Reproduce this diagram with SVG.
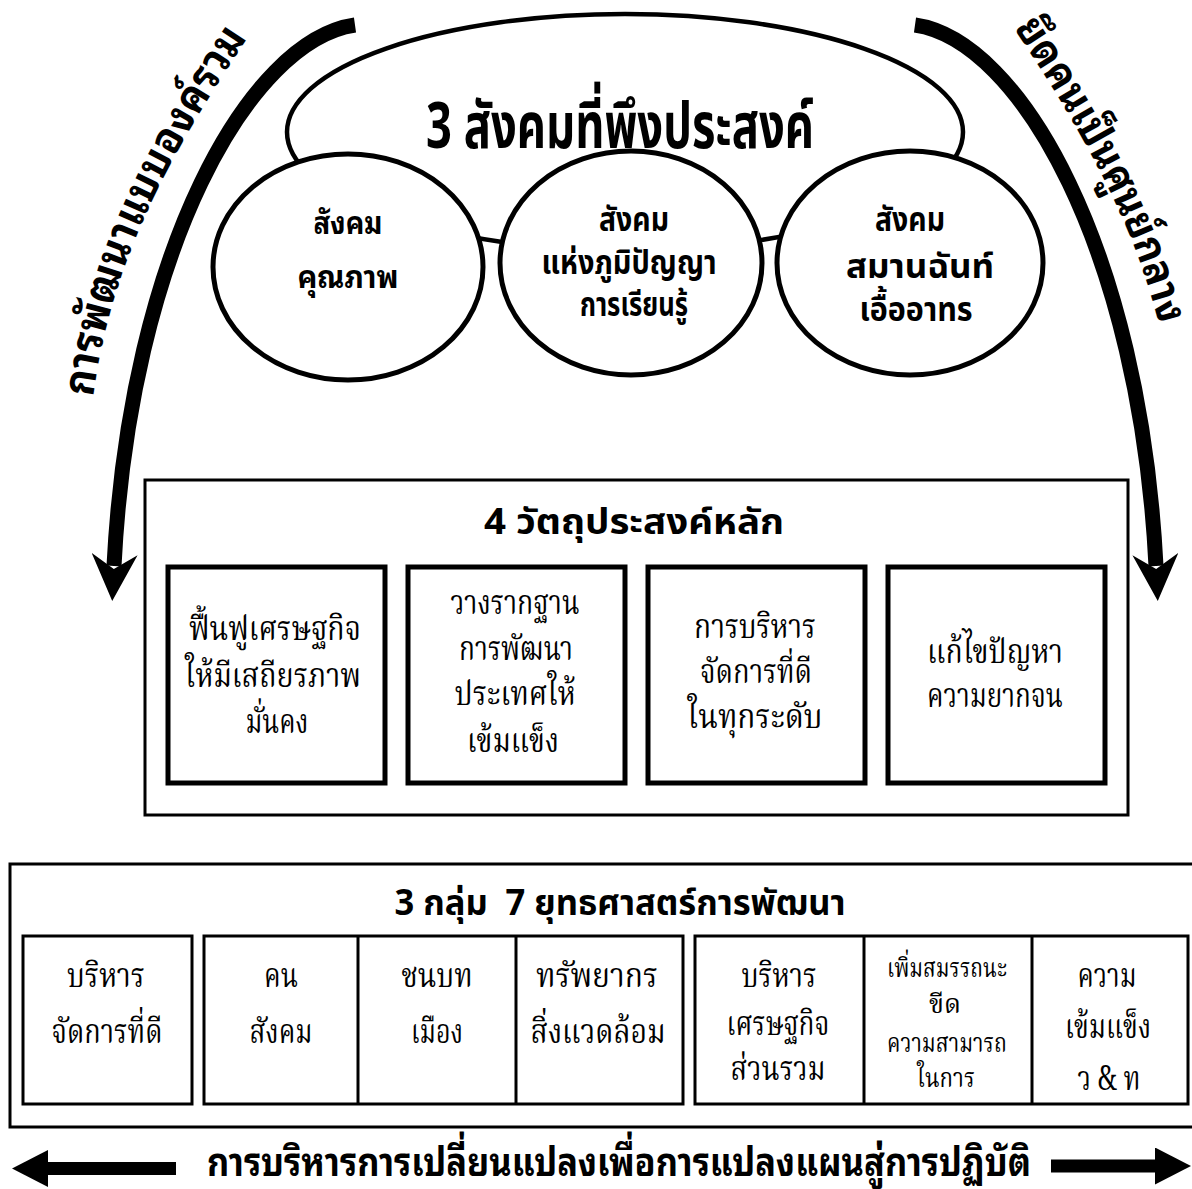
<svg xmlns="http://www.w3.org/2000/svg" width="1192" height="1189" viewBox="0 0 1192 1189">
<defs>
<style>
.bg{fill:#fff}
.ln{fill:#fff;stroke:#000}
.box{fill:#fff;stroke:#000;stroke-width:5}
.cell{fill:none;stroke:#000;stroke-width:3}
.arc{fill:none;stroke:#000;stroke-width:15}
.bar{fill:none;stroke:#000;stroke-width:13}
.hd{font-family:"Noto Sans Thai","Noto Sans","Liberation Sans",sans-serif;font-weight:700;fill:#000;text-anchor:middle}
.lp{font-family:"Noto Sans Thai Looped","Noto Sans Thai","Tahoma","Liberation Sans",sans-serif;font-weight:700;fill:#000}
.sf{font-family:"Noto Serif Thai","Noto Serif","Liberation Serif",serif;fill:#000;text-anchor:middle}
</style>
<marker id="arcHead" markerUnits="userSpaceOnUse" markerWidth="48" markerHeight="46" viewBox="0 0 48 46" refX="12" refY="23" orient="auto">
<path d="M0,0 L47,23 L0,46 L15,23 Z" fill="#000"/>
</marker>
<marker id="barHead" markerUnits="userSpaceOnUse" markerWidth="36" markerHeight="37" viewBox="0 0 36 37" refX="2" refY="18.5" orient="auto">
<path d="M0,0 L36,18.5 L0,37 Z" fill="#000"/>
</marker>
<path id="leftBase" d="M 92 405 C 110 260, 170 150, 270 5"/>
<path id="rightBase" d="M 998 5 C 1097 150, 1156 260, 1174 405"/>
</defs>
<rect class="bg" x="0" y="0" width="1192" height="1189"/>

<g id="connectors">
<path class="arc" d="M 355 25 C 250 40, 130 250, 114 566" marker-end="url(#arcHead)"/>
<path class="arc" d="M 915 25 C 1020 40, 1140 250, 1156 566" marker-end="url(#arcHead)"/>
<line class="bar" x1="176" y1="1168.5" x2="46" y2="1168.5" marker-end="url(#barHead)"/>
<line class="bar" x1="1051" y1="1166" x2="1157" y2="1166" marker-end="url(#barHead)"/>
</g>

<g id="label-left-arc">
<text class="lp" font-size="44"><textPath href="#leftBase" startOffset="8" textLength="395" lengthAdjust="spacingAndGlyphs">การพัฒนาแบบองค์รวม</textPath></text>
</g>
<g id="label-right-arc">
<text class="lp" font-size="43"><textPath href="#rightBase" startOffset="28" textLength="332" lengthAdjust="spacingAndGlyphs">ยึดคนเป็นศูนย์กลาง</textPath></text>
</g>

<g id="node-three-societies">
<ellipse class="ln" cx="625" cy="132" rx="338" ry="118" stroke-width="4.5"/>
<text class="hd" x="620" y="148" font-size="64" textLength="388" lengthAdjust="spacingAndGlyphs">3 สังคมที่พึงประสงค์</text>
</g>

<g id="node-quality-society">
<ellipse class="ln" cx="348" cy="267" rx="135" ry="113" stroke-width="5"/>
<text class="lp" text-anchor="middle" x="348" y="234" font-size="32" textLength="69" lengthAdjust="spacingAndGlyphs">สังคม</text>
<text class="lp" text-anchor="middle" x="348" y="288" font-size="32" textLength="101" lengthAdjust="spacingAndGlyphs">คุณภาพ</text>
</g>

<g id="node-wisdom-society">
<ellipse class="ln" cx="631" cy="263" rx="131" ry="112" stroke-width="5"/>
<text class="hd" x="634" y="231" font-size="34" textLength="70" lengthAdjust="spacingAndGlyphs">สังคม</text>
<text class="hd" x="629" y="274" font-size="34" textLength="175" lengthAdjust="spacingAndGlyphs">แห่งภูมิปัญญา</text>
<text class="hd" x="634" y="316" font-size="34" textLength="108" lengthAdjust="spacingAndGlyphs">การเรียนรู้</text>
</g>

<g id="node-harmony-society">
<ellipse class="ln" cx="910" cy="263" rx="133" ry="112" stroke-width="5"/>
<text class="hd" x="910" y="231" font-size="34" textLength="70" lengthAdjust="spacingAndGlyphs">สังคม</text>
<text class="hd" x="920" y="278" font-size="34" textLength="148" lengthAdjust="spacingAndGlyphs">สมานฉันท์</text>
<text class="hd" x="916" y="321" font-size="34" textLength="113" lengthAdjust="spacingAndGlyphs">เอื้ออาทร</text>
</g>

<g id="node-four-objectives">
<rect x="145" y="480" width="983" height="335" fill="none" stroke="#000" stroke-width="3"/>
<text class="hd" x="634" y="534" font-size="36" textLength="300" lengthAdjust="spacingAndGlyphs">4 วัตถุประสงค์หลัก</text>
</g>

<g id="node-objective-1">
<rect class="box" x="168" y="567" width="217" height="216"/>
<text class="sf" x="275" y="640" font-size="33" textLength="172" lengthAdjust="spacingAndGlyphs">ฟื้นฟูเศรษฐกิจ</text>
<text class="sf" x="273" y="687" font-size="33" textLength="176" lengthAdjust="spacingAndGlyphs">ให้มีเสถียรภาพ</text>
<text class="sf" x="277" y="733" font-size="33" textLength="63" lengthAdjust="spacingAndGlyphs">มั่นคง</text>
</g>

<g id="node-objective-2">
<rect class="box" x="408" y="567" width="217" height="216"/>
<text class="sf" x="515" y="614" font-size="33" textLength="129" lengthAdjust="spacingAndGlyphs">วางรากฐาน</text>
<text class="sf" x="516" y="660" font-size="33" textLength="114" lengthAdjust="spacingAndGlyphs">การพัฒนา</text>
<text class="sf" x="515" y="705" font-size="33" textLength="121" lengthAdjust="spacingAndGlyphs">ประเทศให้</text>
<text class="sf" x="513" y="752" font-size="33" textLength="92" lengthAdjust="spacingAndGlyphs">เข้มแข็ง</text>
</g>

<g id="node-objective-3">
<rect class="box" x="648" y="567" width="217" height="216"/>
<text class="sf" x="755" y="638" font-size="33" textLength="122" lengthAdjust="spacingAndGlyphs">การบริหาร</text>
<text class="sf" x="756" y="683" font-size="33" textLength="112" lengthAdjust="spacingAndGlyphs">จัดการที่ดี</text>
<text class="sf" x="755" y="728" font-size="33" textLength="135" lengthAdjust="spacingAndGlyphs">ในทุกระดับ</text>
</g>

<g id="node-objective-4">
<rect class="box" x="888" y="567" width="217" height="216"/>
<text class="sf" x="995" y="663" font-size="33" textLength="136" lengthAdjust="spacingAndGlyphs">แก้ไขปัญหา</text>
<text class="sf" x="995" y="707" font-size="33" textLength="136" lengthAdjust="spacingAndGlyphs">ความยากจน</text>
</g>

<g id="node-strategies">
<rect x="10" y="864" width="1195" height="263" fill="none" stroke="#000" stroke-width="3"/>
<text class="hd" x="620" y="915" font-size="36" textLength="451" lengthAdjust="spacingAndGlyphs">3 กลุ่ม&#160; 7 ยุทธศาสตร์การพัฒนา</text>
</g>

<g id="node-strategy-governance">
<rect class="cell" x="23" y="936" width="169" height="168"/>
<text class="sf" x="106" y="987" font-size="34" textLength="78" lengthAdjust="spacingAndGlyphs">บริหาร</text>
<text class="sf" x="107" y="1043" font-size="34" textLength="111" lengthAdjust="spacingAndGlyphs">จัดการที่ดี</text>
</g>

<g id="node-strategy-group-2">
<rect class="cell" x="204" y="936" width="479" height="168"/>
<line class="cell" x1="358" y1="936" x2="358" y2="1104"/>
<line class="cell" x1="516" y1="936" x2="516" y2="1104"/>
<text class="sf" x="281" y="987" font-size="34" textLength="34" lengthAdjust="spacingAndGlyphs">คน</text>
<text class="sf" x="281" y="1043" font-size="34" textLength="63" lengthAdjust="spacingAndGlyphs">สังคม</text>
<text class="sf" x="437" y="987" font-size="34" textLength="71" lengthAdjust="spacingAndGlyphs">ชนบท</text>
<text class="sf" x="437" y="1043" font-size="34" textLength="52" lengthAdjust="spacingAndGlyphs">เมือง</text>
<text class="sf" x="597" y="987" font-size="34" textLength="122" lengthAdjust="spacingAndGlyphs">ทรัพยากร</text>
<text class="sf" x="598" y="1043" font-size="34" textLength="135" lengthAdjust="spacingAndGlyphs">สิ่งแวดล้อม</text>
</g>

<g id="node-strategy-group-3">
<rect class="cell" x="695" y="936" width="493" height="168"/>
<line class="cell" x1="864" y1="936" x2="864" y2="1104"/>
<line class="cell" x1="1032" y1="936" x2="1032" y2="1104"/>
<text class="sf" x="779" y="987" font-size="34" textLength="75" lengthAdjust="spacingAndGlyphs">บริหาร</text>
<text class="sf" x="778" y="1035" font-size="34" textLength="103" lengthAdjust="spacingAndGlyphs">เศรษฐกิจ</text>
<text class="sf" x="778" y="1080" font-size="34" textLength="95" lengthAdjust="spacingAndGlyphs">ส่วนรวม</text>
<text class="sf" x="947" y="977" font-size="27" textLength="120" lengthAdjust="spacingAndGlyphs">เพิ่มสมรรถนะ</text>
<text class="sf" x="945" y="1013" font-size="27" textLength="32" lengthAdjust="spacingAndGlyphs">ขีด</text>
<text class="sf" x="947" y="1052" font-size="27" textLength="120" lengthAdjust="spacingAndGlyphs">ความสามารถ</text>
<text class="sf" x="946" y="1087" font-size="27" textLength="58" lengthAdjust="spacingAndGlyphs">ในการ</text>
<text class="sf" x="1107" y="987" font-size="34" textLength="59" lengthAdjust="spacingAndGlyphs">ความ</text>
<text class="sf" x="1108" y="1038" font-size="34" textLength="86" lengthAdjust="spacingAndGlyphs">เข้มแข็ง</text>
<text class="sf" x="1109" y="1090" font-size="34" textLength="63" lengthAdjust="spacingAndGlyphs">ว &amp; ท</text>
</g>

<g id="label-bottom">
<text class="lp" text-anchor="middle" x="619" y="1176" font-size="40" textLength="824" lengthAdjust="spacingAndGlyphs">การบริหารการเปลี่ยนแปลงเพื่อการแปลงแผนสู่การปฏิบัติ</text>
</g>
</svg>
